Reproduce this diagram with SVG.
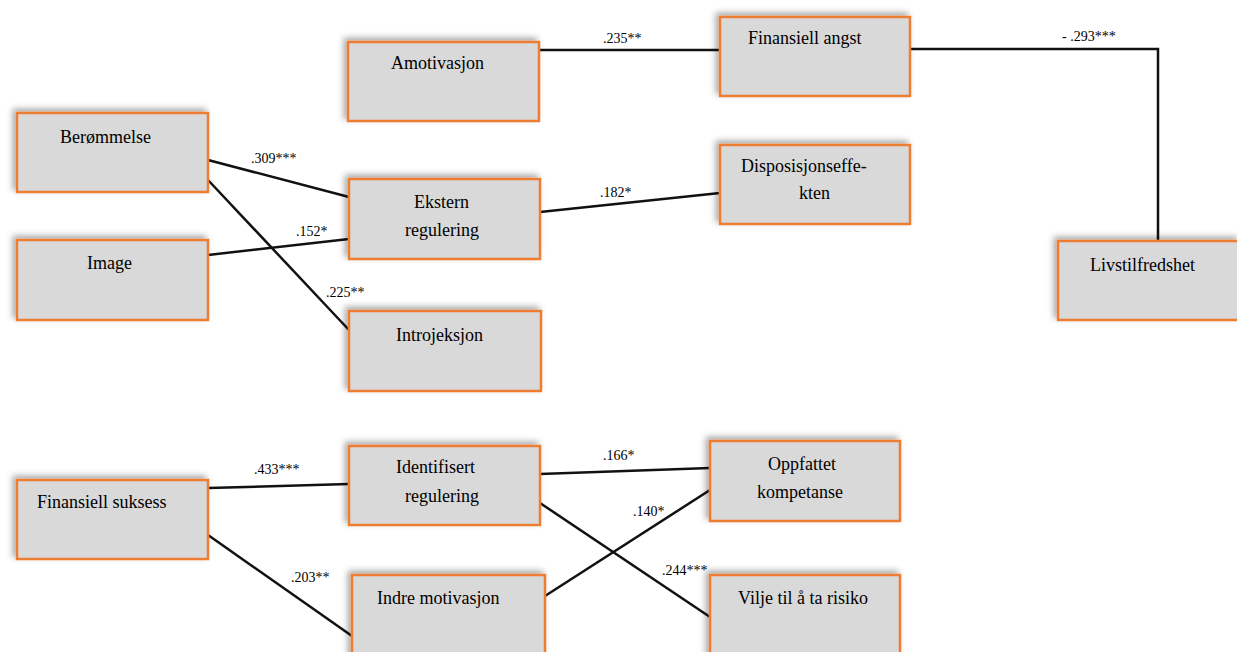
<svg xmlns="http://www.w3.org/2000/svg" width="1237" height="652" viewBox="0 0 1237 652" font-family="'Liberation Serif'">
<defs>
<filter id="sh" x="-10%" y="-20%" width="120%" height="140%">
<feDropShadow dx="-3" dy="-3" stdDeviation="3" flood-color="#000" flood-opacity="0.35"/>
</filter>
</defs>
<rect width="1237" height="652" fill="#fff"/>
<g id="connectors" stroke="#111" stroke-width="2.5" fill="none">
<line x1="539" y1="50" x2="720" y2="50"/>
<polyline points="910,49 1158,49 1158,240"/>
<line x1="208" y1="160" x2="349" y2="197"/>
<line x1="208" y1="255" x2="349" y2="239"/>
<line x1="208" y1="180" x2="349" y2="330"/>
<line x1="540" y1="212" x2="720" y2="193"/>
<line x1="208" y1="488" x2="349" y2="484"/>
<line x1="208" y1="535" x2="352" y2="636"/>
<line x1="540" y1="474" x2="710" y2="468"/>
<line x1="540" y1="503" x2="710" y2="617"/>
<line x1="545" y1="596" x2="710" y2="490"/>
</g>
<g id="connector-labels">
<text font-family="'Liberation Serif'" font-size="14" x="603" y="43">.235**</text>
<text font-family="'Liberation Serif'" font-size="14" x="1062" y="41">- .293***</text>
<text font-family="'Liberation Serif'" font-size="14" x="251" y="163">.309***</text>
<text font-family="'Liberation Serif'" font-size="14" x="296" y="236">.152*</text>
<text font-family="'Liberation Serif'" font-size="14" x="326" y="297">.225**</text>
<text font-family="'Liberation Serif'" font-size="14" x="600" y="197">.182*</text>
<text font-family="'Liberation Serif'" font-size="14" x="254" y="474">.433***</text>
<text font-family="'Liberation Serif'" font-size="14" x="291" y="582">.203**</text>
<text font-family="'Liberation Serif'" font-size="14" x="603" y="460">.166*</text>
<text font-family="'Liberation Serif'" font-size="14" x="633" y="516">.140*</text>
<text font-family="'Liberation Serif'" font-size="14" x="662" y="575">.244***</text>
</g>
<g id="amotivasjon"><rect x="348" y="42" width="191" height="79" fill="#d9d9d9" stroke="#ed7d31" stroke-width="2.5" filter="url(#sh)"/><text font-family="'Liberation Serif'" font-size="18" x="391" y="69">Amotivasjon</text></g>
<g id="finansiell-angst"><rect x="720" y="17" width="190" height="79" fill="#d9d9d9" stroke="#ed7d31" stroke-width="2.5" filter="url(#sh)"/><text font-family="'Liberation Serif'" font-size="18" x="748" y="44">Finansiell angst</text></g>
<g id="disposisjonseffekten"><rect x="720" y="145" width="190" height="79" fill="#d9d9d9" stroke="#ed7d31" stroke-width="2.5" filter="url(#sh)"/><text font-family="'Liberation Serif'" font-size="18" x="741" y="172">Disposisjonseffe-</text><text font-family="'Liberation Serif'" font-size="18" x="799" y="199">kten</text></g>
<g id="livstilfredshet"><rect x="1058" y="241" width="181" height="79" fill="#d9d9d9" stroke="#ed7d31" stroke-width="2.5" filter="url(#sh)"/><text font-family="'Liberation Serif'" font-size="18" x="1090" y="271">Livstilfredshet</text></g>
<g id="berommelse"><rect x="17" y="113" width="191" height="79" fill="#d9d9d9" stroke="#ed7d31" stroke-width="2.5" filter="url(#sh)"/><text font-family="'Liberation Serif'" font-size="18" x="60" y="143">Berømmelse</text></g>
<g id="image"><rect x="17" y="240" width="191" height="80" fill="#d9d9d9" stroke="#ed7d31" stroke-width="2.5" filter="url(#sh)"/><text font-family="'Liberation Serif'" font-size="18" x="87" y="269">Image</text></g>
<g id="ekstern-regulering"><rect x="349" y="179" width="191" height="80" fill="#d9d9d9" stroke="#ed7d31" stroke-width="2.5" filter="url(#sh)"/><text font-family="'Liberation Serif'" font-size="18" x="414" y="208">Ekstern</text><text font-family="'Liberation Serif'" font-size="18" x="405" y="236">regulering</text></g>
<g id="introjeksjon"><rect x="349" y="311" width="192" height="80" fill="#d9d9d9" stroke="#ed7d31" stroke-width="2.5" filter="url(#sh)"/><text font-family="'Liberation Serif'" font-size="18" x="396" y="341">Introjeksjon</text></g>
<g id="finansiell-suksess"><rect x="17" y="480" width="191" height="79" fill="#d9d9d9" stroke="#ed7d31" stroke-width="2.5" filter="url(#sh)"/><text font-family="'Liberation Serif'" font-size="18" x="37" y="508">Finansiell suksess</text></g>
<g id="identifisert-regulering"><rect x="349" y="446" width="191" height="79" fill="#d9d9d9" stroke="#ed7d31" stroke-width="2.5" filter="url(#sh)"/><text font-family="'Liberation Serif'" font-size="18" x="396" y="473">Identifisert</text><text font-family="'Liberation Serif'" font-size="18" x="405" y="502">regulering</text></g>
<g id="indre-motivasjon"><rect x="352" y="575" width="193" height="85" fill="#d9d9d9" stroke="#ed7d31" stroke-width="2.5" filter="url(#sh)"/><text font-family="'Liberation Serif'" font-size="18" x="377" y="604">Indre motivasjon</text></g>
<g id="oppfattet-kompetanse"><rect x="710" y="441" width="190" height="80" fill="#d9d9d9" stroke="#ed7d31" stroke-width="2.5" filter="url(#sh)"/><text font-family="'Liberation Serif'" font-size="18" x="768" y="470">Oppfattet</text><text font-family="'Liberation Serif'" font-size="18" x="757" y="498">kompetanse</text></g>
<g id="vilje-til-risiko"><rect x="710" y="575" width="190" height="85" fill="#d9d9d9" stroke="#ed7d31" stroke-width="2.5" filter="url(#sh)"/><text font-family="'Liberation Serif'" font-size="18" x="738" y="604">Vilje til å ta risiko</text></g>
</svg>
